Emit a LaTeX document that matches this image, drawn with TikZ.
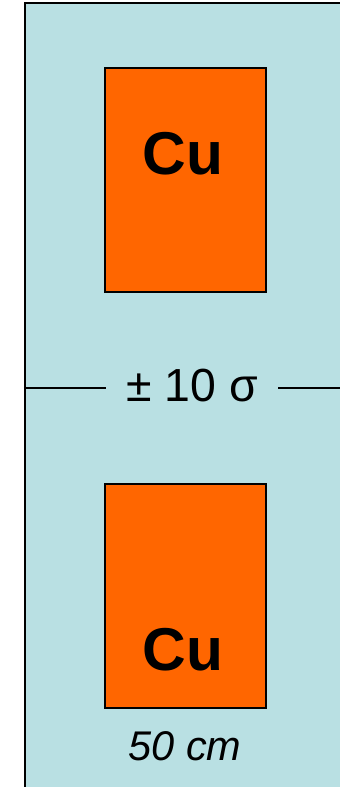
\documentclass[tikz,border=0pt]{standalone}
\usepackage{fontspec}
\setmainfont{Liberation Sans}
\usetikzlibrary{positioning}
\definecolor{hallblue}{RGB}{185,224,227}
\definecolor{copper}{RGB}{255,102,0}
\tikzset{
    % Hall
    hall/.style={
        rectangle,
        draw=black,
        line width=1.4pt,
        fill=hallblue,
        minimum width=8cm,
        minimum height=20cm,
        inner sep=0pt
    },
    % Copper blocks
    cublock/.style={
        rectangle,
        draw=black,
        line width=1pt,
        fill=copper,
        minimum width=4.025cm,
        minimum height=5.6cm,
        inner sep=0pt
    },
    % Labels
    culabel/.style={
        anchor=base,
        inner sep=0pt,
        font=\fontsize{43}{46}\selectfont\bfseries
    },
    widthlabel/.style={
        anchor=base,
        inner sep=0pt,
        font=\fontsize{29.5}{32}\selectfont\itshape
    },
    gaplabel/.style={
        anchor=base,
        inner ysep=0pt,
        inner xsep=0.5cm,
        font=\fontsize{33}{36}\selectfont
    },
    gapline/.style={
        line width=0.9pt,
        draw=black
    }
}
\begin{document}
\begin{tikzpicture}[x=0.025cm,y=-0.025cm]

    \useasboundingbox (0,0) rectangle (340,787);

    % Hall
    \node[hall] (hall) at (185,403) {};

    % Copper blocks
    \node[cublock] (cutop) at (185.5,180) {};
    \node[cublock] (cubot) at (185.5,596) {};
    \node[culabel] (cutoptext) at (183,175) {Cu};
    \node[culabel] (cubottext) at (183,670) {Cu};

    % Gap
    \node[gaplabel] (gap) at (192,401) {± 10 σ};
    \coordinate (gapy) at (0,388);
    \draw[gapline] (hall.west |- gapy) -- (gap.west |- gapy);
    \draw[gapline] (gap.east |- gapy) -- (hall.east |- gapy);

    % Width
    \node[widthlabel] (width) at (185,760) {50 cm};

\end{tikzpicture}
\end{document}
